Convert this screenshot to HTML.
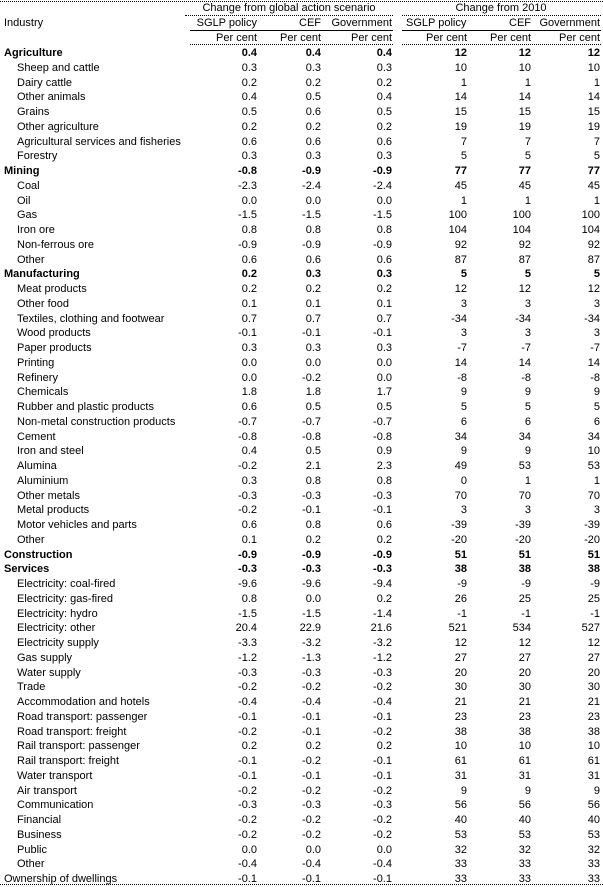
<!DOCTYPE html>
<html><head><meta charset="utf-8"><style>
body{margin:0;background:#fff;width:603px;height:886px;position:relative;overflow:hidden;font-family:"Liberation Sans",Arial,sans-serif;font-size:11px;color:#000}
.a{position:absolute;white-space:nowrap;line-height:12px}
.dl{position:absolute;height:0;border-top:1px dotted #000}
.sl{position:absolute;height:0;border-top:1px solid #000}
table{position:absolute;left:0;top:46px;border-collapse:collapse;table-layout:fixed;width:600px}
td{padding:0;height:14.75px;line-height:14.75px;text-align:right;white-space:nowrap;overflow:visible}
td:first-child{text-align:left;padding-left:17px}
tr.b td{font-weight:bold}
tr.b td:first-child,tr.t td:first-child{padding-left:4px}
</style></head><body>
<div class="dl" style="left:0;top:1px;width:603px"></div>
<div class="a" style="left:185px;width:208px;text-align:center;top:2px">Change from global action scenario</div>
<div class="a" style="left:402px;width:198px;text-align:center;top:2px">Change from 2010</div>
<div class="dl" style="left:185px;top:15px;width:208px"></div>
<div class="dl" style="left:402px;top:15px;width:199px"></div>
<div class="a" style="left:4px;top:17px">Industry</div>
<div class="a" style="right:346px;top:17px">SGLP policy</div>
<div class="a" style="right:282px;top:17px">CEF</div>
<div class="a" style="right:211px;top:17px">Government</div>
<div class="a" style="left:406px;top:17px">SGLP policy</div>
<div class="a" style="right:72px;top:17px">CEF</div>
<div class="a" style="right:3px;top:17px">Government</div>
<div class="sl" style="left:190px;top:30px;width:203px"></div>
<div class="sl" style="left:402px;top:30px;width:199px"></div>
<div class="a" style="right:346px;top:32px">Per cent</div>
<div class="a" style="right:282px;top:32px">Per cent</div>
<div class="a" style="right:211px;top:32px">Per cent</div>
<div class="a" style="right:136px;top:32px">Per cent</div>
<div class="a" style="right:72px;top:32px">Per cent</div>
<div class="a" style="right:3px;top:32px">Per cent</div>
<div class="dl" style="left:190px;top:44px;width:203px"></div>
<div class="dl" style="left:402px;top:44px;width:199px"></div>
<table>
<colgroup><col style="width:190px"><col style="width:67px"><col style="width:64px"><col style="width:71px"><col style="width:75px"><col style="width:64px"><col style="width:69px"></colgroup>
<tr class="b"><td>Agriculture</td><td>0.4</td><td>0.4</td><td>0.4</td><td>12</td><td>12</td><td>12</td></tr>
<tr><td>Sheep and cattle</td><td>0.3</td><td>0.3</td><td>0.3</td><td>10</td><td>10</td><td>10</td></tr>
<tr><td>Dairy cattle</td><td>0.2</td><td>0.2</td><td>0.2</td><td>1</td><td>1</td><td>1</td></tr>
<tr><td>Other animals</td><td>0.4</td><td>0.5</td><td>0.4</td><td>14</td><td>14</td><td>14</td></tr>
<tr><td>Grains</td><td>0.5</td><td>0.6</td><td>0.5</td><td>15</td><td>15</td><td>15</td></tr>
<tr><td>Other agriculture</td><td>0.2</td><td>0.2</td><td>0.2</td><td>19</td><td>19</td><td>19</td></tr>
<tr><td>Agricultural services and fisheries</td><td>0.6</td><td>0.6</td><td>0.6</td><td>7</td><td>7</td><td>7</td></tr>
<tr><td>Forestry</td><td>0.3</td><td>0.3</td><td>0.3</td><td>5</td><td>5</td><td>5</td></tr>
<tr class="b"><td>Mining</td><td>-0.8</td><td>-0.9</td><td>-0.9</td><td>77</td><td>77</td><td>77</td></tr>
<tr><td>Coal</td><td>-2.3</td><td>-2.4</td><td>-2.4</td><td>45</td><td>45</td><td>45</td></tr>
<tr><td>Oil</td><td>0.0</td><td>0.0</td><td>0.0</td><td>1</td><td>1</td><td>1</td></tr>
<tr><td>Gas</td><td>-1.5</td><td>-1.5</td><td>-1.5</td><td>100</td><td>100</td><td>100</td></tr>
<tr><td>Iron ore</td><td>0.8</td><td>0.8</td><td>0.8</td><td>104</td><td>104</td><td>104</td></tr>
<tr><td>Non-ferrous ore</td><td>-0.9</td><td>-0.9</td><td>-0.9</td><td>92</td><td>92</td><td>92</td></tr>
<tr><td>Other</td><td>0.6</td><td>0.6</td><td>0.6</td><td>87</td><td>87</td><td>87</td></tr>
<tr class="b"><td>Manufacturing</td><td>0.2</td><td>0.3</td><td>0.3</td><td>5</td><td>5</td><td>5</td></tr>
<tr><td>Meat products</td><td>0.2</td><td>0.2</td><td>0.2</td><td>12</td><td>12</td><td>12</td></tr>
<tr><td>Other food</td><td>0.1</td><td>0.1</td><td>0.1</td><td>3</td><td>3</td><td>3</td></tr>
<tr><td>Textiles, clothing and footwear</td><td>0.7</td><td>0.7</td><td>0.7</td><td>-34</td><td>-34</td><td>-34</td></tr>
<tr><td>Wood products</td><td>-0.1</td><td>-0.1</td><td>-0.1</td><td>3</td><td>3</td><td>3</td></tr>
<tr><td>Paper products</td><td>0.3</td><td>0.3</td><td>0.3</td><td>-7</td><td>-7</td><td>-7</td></tr>
<tr><td>Printing</td><td>0.0</td><td>0.0</td><td>0.0</td><td>14</td><td>14</td><td>14</td></tr>
<tr><td>Refinery</td><td>0.0</td><td>-0.2</td><td>0.0</td><td>-8</td><td>-8</td><td>-8</td></tr>
<tr><td>Chemicals</td><td>1.8</td><td>1.8</td><td>1.7</td><td>9</td><td>9</td><td>9</td></tr>
<tr><td>Rubber and plastic products</td><td>0.6</td><td>0.5</td><td>0.5</td><td>5</td><td>5</td><td>5</td></tr>
<tr><td>Non-metal construction products</td><td>-0.7</td><td>-0.7</td><td>-0.7</td><td>6</td><td>6</td><td>6</td></tr>
<tr><td>Cement</td><td>-0.8</td><td>-0.8</td><td>-0.8</td><td>34</td><td>34</td><td>34</td></tr>
<tr><td>Iron and steel</td><td>0.4</td><td>0.5</td><td>0.9</td><td>9</td><td>9</td><td>10</td></tr>
<tr><td>Alumina</td><td>-0.2</td><td>2.1</td><td>2.3</td><td>49</td><td>53</td><td>53</td></tr>
<tr><td>Aluminium</td><td>0.3</td><td>0.8</td><td>0.8</td><td>0</td><td>1</td><td>1</td></tr>
<tr><td>Other metals</td><td>-0.3</td><td>-0.3</td><td>-0.3</td><td>70</td><td>70</td><td>70</td></tr>
<tr><td>Metal products</td><td>-0.2</td><td>-0.1</td><td>-0.1</td><td>3</td><td>3</td><td>3</td></tr>
<tr><td>Motor vehicles and parts</td><td>0.6</td><td>0.8</td><td>0.6</td><td>-39</td><td>-39</td><td>-39</td></tr>
<tr><td>Other</td><td>0.1</td><td>0.2</td><td>0.2</td><td>-20</td><td>-20</td><td>-20</td></tr>
<tr class="b"><td>Construction</td><td>-0.9</td><td>-0.9</td><td>-0.9</td><td>51</td><td>51</td><td>51</td></tr>
<tr class="b"><td>Services</td><td>-0.3</td><td>-0.3</td><td>-0.3</td><td>38</td><td>38</td><td>38</td></tr>
<tr><td>Electricity: coal-fired</td><td>-9.6</td><td>-9.6</td><td>-9.4</td><td>-9</td><td>-9</td><td>-9</td></tr>
<tr><td>Electricity: gas-fired</td><td>0.8</td><td>0.0</td><td>0.2</td><td>26</td><td>25</td><td>25</td></tr>
<tr><td>Electricity: hydro</td><td>-1.5</td><td>-1.5</td><td>-1.4</td><td>-1</td><td>-1</td><td>-1</td></tr>
<tr><td>Electricity: other</td><td>20.4</td><td>22.9</td><td>21.6</td><td>521</td><td>534</td><td>527</td></tr>
<tr><td>Electricity supply</td><td>-3.3</td><td>-3.2</td><td>-3.2</td><td>12</td><td>12</td><td>12</td></tr>
<tr><td>Gas supply</td><td>-1.2</td><td>-1.3</td><td>-1.2</td><td>27</td><td>27</td><td>27</td></tr>
<tr><td>Water supply</td><td>-0.3</td><td>-0.3</td><td>-0.3</td><td>20</td><td>20</td><td>20</td></tr>
<tr><td>Trade</td><td>-0.2</td><td>-0.2</td><td>-0.2</td><td>30</td><td>30</td><td>30</td></tr>
<tr><td>Accommodation and hotels</td><td>-0.4</td><td>-0.4</td><td>-0.4</td><td>21</td><td>21</td><td>21</td></tr>
<tr><td>Road transport: passenger</td><td>-0.1</td><td>-0.1</td><td>-0.1</td><td>23</td><td>23</td><td>23</td></tr>
<tr><td>Road transport: freight</td><td>-0.2</td><td>-0.1</td><td>-0.2</td><td>38</td><td>38</td><td>38</td></tr>
<tr><td>Rail transport: passenger</td><td>0.2</td><td>0.2</td><td>0.2</td><td>10</td><td>10</td><td>10</td></tr>
<tr><td>Rail transport: freight</td><td>-0.1</td><td>-0.2</td><td>-0.1</td><td>61</td><td>61</td><td>61</td></tr>
<tr><td>Water transport</td><td>-0.1</td><td>-0.1</td><td>-0.1</td><td>31</td><td>31</td><td>31</td></tr>
<tr><td>Air transport</td><td>-0.2</td><td>-0.2</td><td>-0.2</td><td>9</td><td>9</td><td>9</td></tr>
<tr><td>Communication</td><td>-0.3</td><td>-0.3</td><td>-0.3</td><td>56</td><td>56</td><td>56</td></tr>
<tr><td>Financial</td><td>-0.2</td><td>-0.2</td><td>-0.2</td><td>40</td><td>40</td><td>40</td></tr>
<tr><td>Business</td><td>-0.2</td><td>-0.2</td><td>-0.2</td><td>53</td><td>53</td><td>53</td></tr>
<tr><td>Public</td><td>0.0</td><td>0.0</td><td>0.0</td><td>32</td><td>32</td><td>32</td></tr>
<tr><td>Other</td><td>-0.4</td><td>-0.4</td><td>-0.4</td><td>33</td><td>33</td><td>33</td></tr>
<tr class="t"><td>Ownership of dwellings</td><td>-0.1</td><td>-0.1</td><td>-0.1</td><td>33</td><td>33</td><td>33</td></tr>
</table>
<div class="dl" style="left:0;top:884px;width:603px"></div>
</body></html>
